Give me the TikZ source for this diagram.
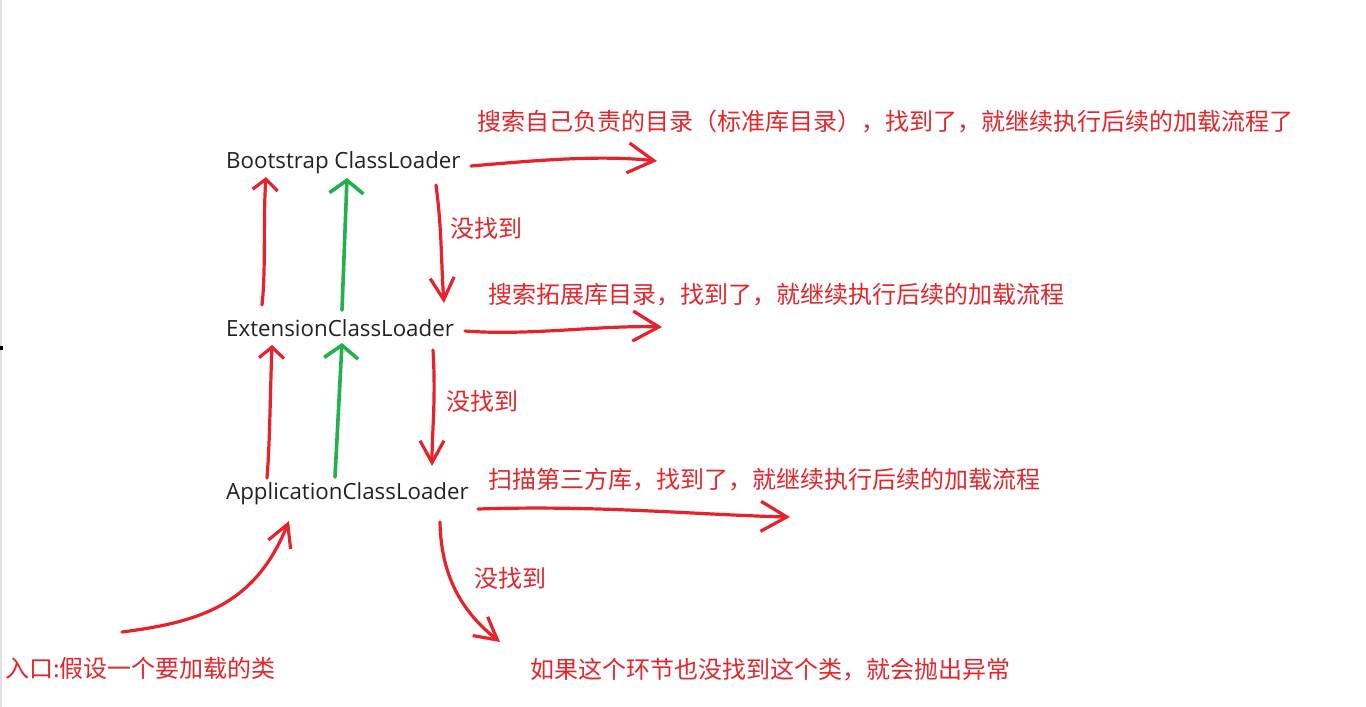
\documentclass[tikz,border=0pt]{standalone}
\usepackage{fontspec}
\setmainfont{Open Sans}
\newfontfamily\cjk{Noto Sans CJK SC}
\usetikzlibrary{arrows.meta}
\definecolor{arrred}{HTML}{E8222A}
\definecolor{txtred}{HTML}{E3262C}
\definecolor{arrgreen}{HTML}{22B14C}
\definecolor{txtdark}{HTML}{222222}
\tikzset{
  loader/.style={anchor=west, inner sep=0pt, text=txtdark, font=\fontsize{22.3}{25}\selectfont},
  note/.style={anchor=west, inner sep=0pt, text=txtred, font=\cjk\fontsize{24}{27}\selectfont},
  redline/.style={draw=arrred, line width=3.2pt, line cap=round, line join=round},
  greenline/.style={draw=arrgreen, line width=3.6pt, line cap=round, line join=round},
  headR/.style={-{Straight Barb[length=26pt,width=30pt,line width=3.2pt]}},
  headD/.style={-{Straight Barb[length=22pt,width=24pt,line width=3.2pt]}},
  headU/.style={-{Straight Barb[length=11pt,width=25pt,line width=3.2pt]}},
  headG/.style={-{Straight Barb[length=13pt,width=34pt,line width=3.6pt]}},
}
\begin{document}
\begin{tikzpicture}[x=1pt,y=-1pt]
\useasboundingbox[fill=white] (0,0) rectangle (1366,707);
\draw[draw=black!12, line width=1.5pt] (1,0) -- (1,707);
\fill[black] (0,346) rectangle (3,350);

% loaders
\node[loader] (boot) at (226,163) {Bootstrap ClassLoader};
\node[loader] (ext)  at (226,328) {ExtensionClassLoader};
\node[loader] (app)  at (226,494) {ApplicationClassLoader};

% notes
\node[note] (n1) at (477,122) {搜索自己负责的目录（标准库目录），找到了，就继续执行后续的加载流程了};
\node[note] (n2) at (488,295) {搜索拓展库目录，找到了，就继续执行后续的加载流程};
\node[note] (n3) at (488,480) {扫描第三方库，找到了，就继续执行后续的加载流程};
\node[note] (nf1) at (450,228) {没找到};
\node[note] (nf2) at (446,401) {没找到};
\node[note] (nf3) at (474,578) {没找到};
\node[note] (entry) at (5,668) {入口:假设一个要加载的类};
\node[note] (exc) at (530,670) {如果这个环节也没找到这个类，就会抛出异常};

% coordinates
\coordinate (bR0) at (471,166); \coordinate (bR1) at (657,161);
\coordinate (eR0) at (465,331); \coordinate (eR1) at (662,327);
\coordinate (aR0) at (478,509); \coordinate (aR1) at (790,517);
\coordinate (bD0) at (436,185); \coordinate (bD1) at (444,303);
\coordinate (eD0) at (433,350); \coordinate (eD1) at (432,466);
\coordinate (aD0) at (440,522); \coordinate (aD1) at (500,642);
\coordinate (rU10) at (267,478); \coordinate (rU11) at (272,345);
\coordinate (rU20) at (262,305); \coordinate (rU21) at (266,177);
\coordinate (gU10) at (335,477); \coordinate (gU11) at (342,343);
\coordinate (gU20) at (342,310); \coordinate (gU21) at (347,178);
\coordinate (in0) at (122,632); \coordinate (in1) at (289,521);

% right arrows
\draw[redline,headR] (bR0) .. controls (540,160) and (600,155) .. (bR1);
\draw[redline,headR] (eR0) .. controls (530,336) and (600,325) .. (eR1);
\draw[redline,headR] (aR0) .. controls (600,505) and (700,515) .. (aR1);

% down arrows
\draw[redline,headD] (bD0) .. controls (442,230) and (441,262) .. (bD1);
\draw[redline,headD] (eD0) .. controls (436,400) and (432,430) .. (eD1);
\draw[redline,headD] (aD0) .. controls (441,585) and (470,618) .. (aD1);

% up arrows
\draw[redline,headU] (rU10) .. controls (270,440) and (270,400) .. (rU11);
\draw[redline,headU] (rU20) .. controls (266,270) and (263,220) .. (rU21);
\draw[greenline,headG] (gU10) -- (gU11);
\draw[greenline,headG] (gU20) -- (gU21);

% entry arrow
\draw[redline,headD] (in0) .. controls (200,622) and (255,605) .. (in1);
\end{tikzpicture}
\end{document}
